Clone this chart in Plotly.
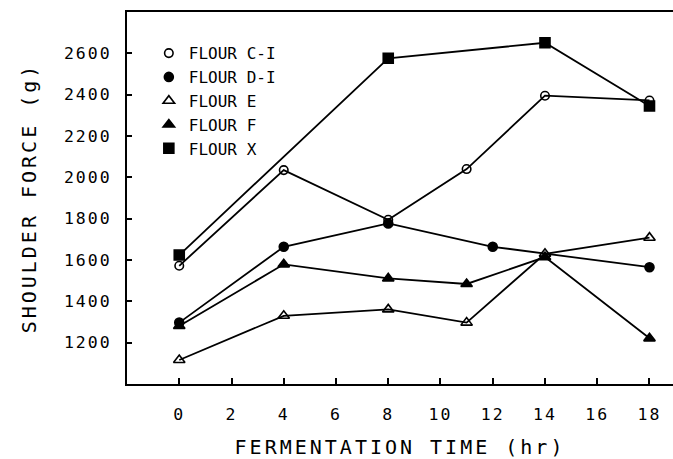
import plotly.graph_objects as go

# Data
x_ci = [0, 4, 8, 11, 14, 18]
y_ci = [1572, 2035, 1795, 2040, 2395, 2372]
x_di = [0, 4, 8, 12, 18]
y_di = [1297, 1664, 1777, 1664, 1565]
x_e = [0, 4, 8, 11, 14, 18]
y_e = [1116, 1330, 1361, 1297, 1630, 1708]
x_f = [0, 4, 8, 11, 14, 18]
y_f = [1281, 1579, 1511, 1484, 1614, 1221]
x_x = [0, 8, 14, 18]
y_x = [1624, 2576, 2651, 2345]

names = ["FLOUR C-I", "FLOUR D-I", "FLOUR E", "FLOUR F", "FLOUR X"]
symbols = ["circle-open", "circle", "triangle-up-open", "triangle-up", "square"]
sizes = [8.5, 9, 10, 10, 10]
xs = [x_ci, x_di, x_e, x_f, x_x]
ys = [y_ci, y_di, y_e, y_f, y_x]
x_ticks = [0, 2, 4, 6, 8, 10, 12, 14, 16, 18]
y_ticks = [1200, 1400, 1600, 1800, 2000, 2200, 2400, 2600]

FONT = "DejaVu Sans Mono"
fig = go.Figure()
for n, s, xv, yv in zip(names, symbols, xs, ys):
    fig.add_trace(go.Scatter(x=xv, y=yv, mode="lines", showlegend=False,
                             line=dict(color="black", width=1.8), hoverinfo="skip"))
for n, s, sz, xv, yv in zip(names, symbols, sizes, xs, ys):
    fig.add_trace(go.Scatter(x=xv, y=yv, mode="markers", name=n, legendgroup=n,
                             marker=dict(symbol=s, size=sz, color="black",
                                         line=dict(color="black", width=1.6))))

fig.update_layout(
    width=673, height=459,
    margin=dict(l=127, r=0, t=12, b=75),
    paper_bgcolor="white", plot_bgcolor="white",
    font=dict(family=FONT, color="black", size=16),
    legend=dict(x=0.04, y=0.935, xanchor="left", yanchor="top",
                font=dict(size=16, family=FONT), tracegroupgap=0,
                bgcolor="rgba(0,0,0,0)", itemwidth=30),
    xaxis=dict(range=[-2, 18.9], tickvals=x_ticks, ticks="inside", ticklen=6, tickwidth=1.5,
               tickcolor="black", showline=True, linecolor="black", linewidth=2, mirror=True,
               showgrid=False, zeroline=False, ticklabelstandoff=14,
               tickfont=dict(size=16.5),
               title=dict(text="FERMENTATION TIME (hr)", font=dict(size=20), standoff=21)),
    yaxis=dict(range=[1000, 2800], tickvals=y_ticks, ticks="inside", ticklen=5, tickwidth=1.5,
               tickcolor="black", showline=True, linecolor="black", linewidth=2, mirror=False,
               showgrid=False, zeroline=False, ticklabelstandoff=10,
               tickfont=dict(size=16.5),
               title=dict(text="SHOULDER FORCE (g)", font=dict(size=20), standoff=30)),
)

post = """
var gd = document.getElementById('{plot_id}');
function spacing(){
  gd.querySelectorAll('.g-xtitle text, .g-ytitle text').forEach(function(e){ e.style.letterSpacing='3px'; });
  gd.querySelectorAll('.xtick text, .ytick text').forEach(function(e){ e.style.letterSpacing='2px'; });
}
spacing();
gd.on('plotly_afterplot', spacing);
"""
fig.write_html("out.html", post_script=post)
